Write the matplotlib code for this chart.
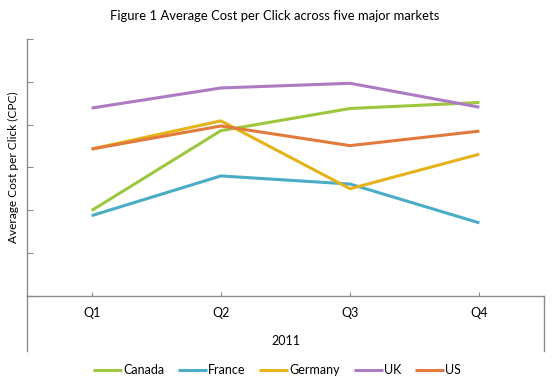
import matplotlib
matplotlib.use("Agg")
import matplotlib.pyplot as plt
from matplotlib.lines import Line2D

plt.rcParams['font.family'] = ['Lato', 'DejaVu Sans']

quarters = ["Q1", "Q2", "Q3", "Q4"]
year_label = "2011"
series_names = ["Canada", "France", "Germany", "UK", "US"]
canada = [1.99, 3.86, 4.38, 4.52]
france = [1.87, 2.80, 2.61, 1.70]
germany = [3.43, 4.09, 2.50, 3.31]
uk = [4.39, 4.86, 4.97, 4.41]
us = [3.43, 3.97, 3.51, 3.85]
values = [canada, france, germany, uk, us]
colors = ["#9DC73E", "#4BACC6", "#E6B219", "#AC7BC3", "#E27A3C"]

W, H = 556, 388
fig = plt.figure(figsize=(W / 100, H / 100), dpi=100)
left, right, top, bottom = 27, 544, 39.3, 295.5
ax = fig.add_axes([left / W, 1 - bottom / H, (right - left) / W, (bottom - top) / H])

x = list(range(len(quarters)))
for name, vals, c in zip(series_names, values, colors):
    ax.plot(x, vals, color=c, lw=2.2, label=name, solid_capstyle='butt')

ax.set_xlim(-0.5, len(quarters) - 0.5)
ax.set_ylim(0, 6)
ax.set_yticks(range(0, 7))
ax.set_yticklabels([])
ax.set_xticks(x)
ax.set_xticklabels(quarters, fontsize=9)
ax.tick_params(axis='both', direction='in', length=4, color='#8C8C8C', width=0.8)
ax.tick_params(axis='x', pad=8, length=3)
for s in ['top', 'right']:
    ax.spines[s].set_visible(False)
for s in ['left', 'bottom']:
    ax.spines[s].set_color('#8C8C8C')
    ax.spines[s].set_linewidth(1.0)

ext = -(351 - bottom) / (bottom - top)
ax.add_line(Line2D([0, 0], [0, ext], transform=ax.transAxes, color='#8C8C8C', lw=1.0, clip_on=False))
ax.add_line(Line2D([1, 1], [0, ext], transform=ax.transAxes, color='#8C8C8C', lw=1.0, clip_on=False))

fig.text((left + right) / 2 / W, 1 - 341 / H, year_label, ha='center', va='center', fontsize=9)
fig.text(13 / W, 1 - 167 / H, "Average Cost per Click (CPC)", rotation=90, ha='center', va='center', fontsize=8.6)
fig.text(275 / W, 1 - 16 / H, "Figure 1 Average Cost per Click across five major markets",
         ha='center', va='center', fontsize=9.4)

handles, labels = ax.get_legend_handles_labels()
fig.legend(handles, labels, loc='center', bbox_to_anchor=(277 / W, 1 - 370 / H), ncol=5,
           frameon=False, fontsize=9, handlelength=2.3, handletextpad=0.1,
           columnspacing=1.1, borderpad=0, borderaxespad=0)

fig.savefig("out.png", dpi=100)
